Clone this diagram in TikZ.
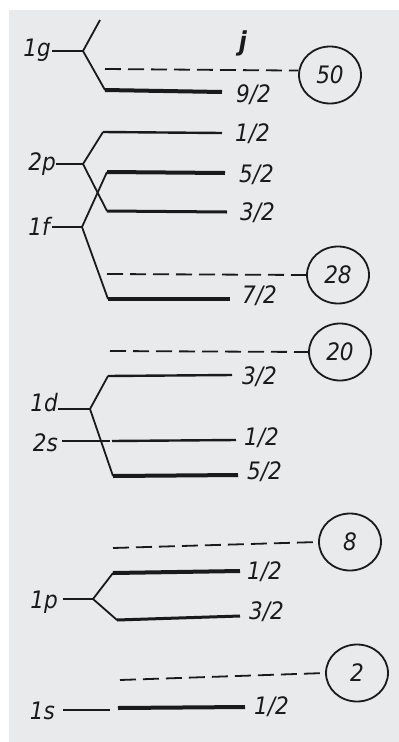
\documentclass[tikz,border=0pt]{standalone}
\usepackage{fontspec}
\setmainfont{Liberation Sans}
\newfontfamily\labfont[ItalicFont={DejaVu Sans Condensed Oblique},BoldItalicFont={DejaVu Sans Condensed Bold Oblique}]{DejaVu Sans Condensed}
\usetikzlibrary{shapes.geometric}
\definecolor{paper}{HTML}{E9EAEC}
\definecolor{ink}{HTML}{1A1A1A}
\begin{document}
\begin{tikzpicture}[x=1pt,y=-1pt,
  lab/.style={font=\labfont\fontsize{24}{24}\selectfont\itshape, text=ink, inner sep=0pt},
  jlab/.style={lab, anchor=west},
  nlab/.style={lab, anchor=east},
  magic/.style={draw=ink, line width=1.8pt, ellipse, minimum width=62pt, minimum height=57pt, inner sep=0pt, font=\labfont\fontsize{24}{24}\selectfont\itshape, text=ink},
  branch/.style={draw=ink, line width=1.8pt, line join=round},
  stub/.style={draw=ink, line width=1.5pt},
  lvlthin/.style={draw=ink, line width=2.4pt},
  lvl/.style={draw=ink, line width=3pt},
  lvlthick/.style={draw=ink, line width=4pt},
  gapline/.style={draw=ink, line width=1.8pt, dash pattern=on 16pt off 7pt}]
\useasboundingbox (0,0) rectangle (399,742);
\fill[white] (0,0) rectangle (399,742);
\fill[paper] (9,10) rectangle (399,742);

% circles (magic numbers)
\node[magic] (c50) at (330,75) {50};
\node[magic] (c28) at (338,275) {28};
\node[magic] (c20) at (340,352) {20};
\node[magic] (c8) at (350,542) {8};
\node[magic] (c2) at (357,673) {2};

% j header
\node[lab, font=\labfont\fontsize{26}{26}\selectfont\bfseries\itshape] (j) at (243,43) {j};

% orbital labels
\node[nlab] (n1g) at (51,50) {1g};
\node[nlab] (n2p) at (56,164) {2p};
\node[nlab] (n1f) at (50,226) {1f};
\node[nlab] (n1d) at (58,403) {1d};
\node[nlab] (n2s) at (58,443) {2s};
\node[nlab] (n1p) at (58,602) {1p};
\node[nlab] (n1s) at (55,711) {1s};

% branch points
\coordinate (b1g) at (83,51);
\coordinate (b2p) at (83,164);
\coordinate (b1f) at (82,227);
\coordinate (b1d) at (90,409);
\coordinate (b1p) at (93,599);

% level start/end points
\coordinate (g0) at (100,20);
\coordinate (g9s) at (105,90);   \coordinate (g9e) at (222,92);
\coordinate (p1s) at (103,132);  \coordinate (p1e) at (222,133);
\coordinate (f5s) at (107,172);  \coordinate (f5e) at (225,173);
\coordinate (p3s) at (107,211);  \coordinate (p3e) at (227,212);
\coordinate (f7s) at (108,299);  \coordinate (f7e) at (230,299);
\coordinate (d3s) at (108,376);  \coordinate (d3e) at (232,375);
\coordinate (s1a) at (110,441);  \coordinate (s1s) at (112,441); \coordinate (s1e) at (236,440);
\coordinate (d5s) at (113,476);  \coordinate (d5e) at (238,475);
\coordinate (pp1s) at (113,573); \coordinate (pp1e) at (240,571);
\coordinate (pp3s) at (117,620); \coordinate (pp3e) at (240,616);
\coordinate (ss0) at (110,710);
\coordinate (ss1s) at (118,708); \coordinate (ss1e) at (245,707);

% dashed gap lines start
\coordinate (d50) at (105,69);
\coordinate (d28) at (107,274);
\coordinate (d20) at (110,351);
\coordinate (d8) at (113,548);
\coordinate (d2) at (120,680);

% stubs from labels
\draw[stub] (n1g.east |- b1g) ++(1,0) -- (b1g);
\draw[stub] (n2p.east |- b2p) -- (b2p);
\draw[stub] (n1f.east |- b1f) ++(2,0) -- (b1f);
\draw[stub] (n1d.east |- b1d) -- (b1d);
\draw[stub] (n2s.east |- s1a) ++(4,0) -- (s1a);
\draw[stub] (n1p.east |- b1p) ++(5,0) -- (b1p);
\draw[stub] (n1s.east |- ss0) ++(8,0) -- (ss0);

% branches
\draw[branch] (g0) -- (b1g) -- (g9s);
\draw[branch] (p1s) -- (b2p) -- (p3s);
\draw[branch] (f5s) -- (b1f) -- (f7s);
\draw[branch] (d3s) -- (b1d) -- (d5s);
\draw[branch] (pp1s) -- (b1p) -- (pp3s);

% levels
\draw[lvlthick] (g9s) -- (g9e);
\draw[lvlthin] (p1s) -- (p1e);
\draw[lvlthick] (f5s) -- (f5e);
\draw[lvl] (p3s) -- (p3e);
\draw[lvlthick] (f7s) -- (f7e);
\draw[lvlthin] (d3s) -- (d3e);
\draw[lvlthin] (s1s) -- (s1e);
\draw[lvlthick] (d5s) -- (d5e);
\draw[lvlthick] (pp1s) -- (pp1e);
\draw[lvl] (pp3s) -- (pp3e);
\draw[lvlthick] (ss1s) -- (ss1e);

% j labels
\node[jlab] (j9) at (236,95) {9/2};
\node[jlab] (j1a) at (235,134) {1/2};
\node[jlab] (j5a) at (239,175) {5/2};
\node[jlab] (j3a) at (240,213) {3/2};
\node[jlab] (j7) at (242,296) {7/2};
\node[jlab] (j3b) at (242,377) {3/2};
\node[jlab] (j1b) at (244,438) {1/2};
\node[jlab] (j5b) at (247,472) {5/2};
\node[jlab] (j1c) at (247,572) {1/2};
\node[jlab] (j3c) at (249,612) {3/2};
\node[jlab] (j1d) at (254,707) {1/2};

% dashed shell closures
\draw[gapline] (d50) -- (c50.172);
\draw[gapline] (d28) -- (c28.west);
\draw[gapline] (d20) -- (c20.west);
\draw[gapline] (d8) -- (c8.west);
\draw[gapline] (d2) -- (c2.west);
\end{tikzpicture}
\end{document}
